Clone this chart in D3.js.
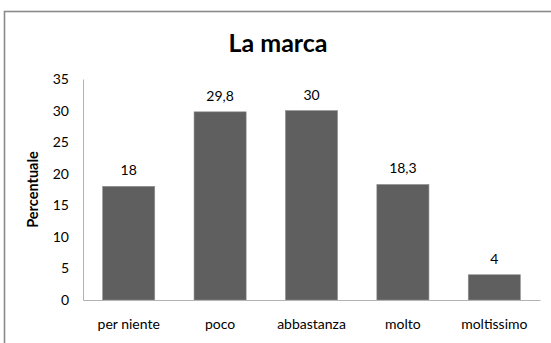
<!DOCTYPE html>
<html>
<head>
<meta charset="utf-8">
<script src="https://cdn.jsdelivr.net/npm/d3@7"></script>
<style>
  html, body { margin: 0; padding: 0; background: #fff; }
  svg { display: block; }
</style>
</head>
<body>
<svg id="chart" width="551" height="343"></svg>
<script>
// Survey answers and their percentages
const categories = ["per niente", "poco", "abbastanza", "molto", "moltissimo"];
const values = [18, 29.8, 30, 18.3, 4];
const yTicks = [0, 5, 10, 15, 20, 25, 30, 35];
const title = "La marca";
const yTitle = "Percentuale";

const W = 551, H = 343;
const fontFamily = "Lato, 'Open Sans', 'Liberation Sans', sans-serif";
const svg = d3.select("#chart");

// Outer chart frame
svg.append("rect")
  .attr("x", 4.5).attr("y", 11.5)
  .attr("width", W + 10).attr("height", H + 10)
  .attr("fill", "#fff")
  .attr("stroke", "#8a8a8a")
  .attr("stroke-width", 1.6);

const plot = { left: 83, right: 540, top: 79, bottom: 300 };

const x = d3.scaleBand()
  .domain(categories)
  .range([plot.left, plot.right])
  .paddingInner(0.43)
  .paddingOuter(0.215);

const y = d3.scaleLinear()
  .domain([0, 35])
  .range([plot.bottom, plot.top]);

// Title
svg.append("text")
  .attr("x", 278).attr("y", 52)
  .attr("text-anchor", "middle")
  .attr("font-family", fontFamily)
  .attr("font-weight", "bold")
  .attr("font-size", 25)
  .attr("fill", "#000")
  .text(title);

// Y axis
const yAxis = d3.axisLeft(y).tickValues(yTicks).tickSize(0).tickPadding(14);
const gy = svg.append("g")
  .attr("transform", `translate(${plot.left},0)`)
  .call(yAxis);
gy.select(".domain").attr("stroke", "#b3b3b3").attr("stroke-width", 1);
gy.selectAll("text")
  .attr("font-family", fontFamily)
  .attr("font-size", 14)
  .attr("fill", "#000");

// Y axis title
svg.append("text")
  .attr("transform", `translate(38,${(plot.top + plot.bottom) / 2}) rotate(-90)`)
  .attr("text-anchor", "middle")
  .attr("font-family", fontFamily)
  .attr("font-weight", "bold")
  .attr("font-size", 14.5)
  .attr("fill", "#000")
  .text(yTitle);

// Bars
svg.append("g").selectAll("rect")
  .data(values)
  .join("rect")
  .attr("x", (d, i) => x(categories[i]))
  .attr("y", d => y(d))
  .attr("width", x.bandwidth())
  .attr("height", d => y(0) - y(d))
  .attr("fill", "#5f5f5f")
  .attr("stroke", "#8f8f8f")
  .attr("stroke-width", 0.6);

// X axis
const xAxis = d3.axisBottom(x).tickSize(0).tickPadding(19);
const gx = svg.append("g")
  .attr("transform", `translate(0,${plot.bottom})`)
  .call(xAxis);
gx.select(".domain").attr("stroke", "#b3b3b3").attr("stroke-width", 1);
gx.selectAll("text")
  .attr("font-family", fontFamily)
  .attr("font-size", 14)
  .attr("fill", "#000");

// Value labels above bars
const fmt = v => String(v).replace(".", ",");
svg.append("g").selectAll("text")
  .data(values)
  .join("text")
  .attr("x", (d, i) => x(categories[i]) + x.bandwidth() / 2)
  .attr("y", d => y(d) - 11)
  .attr("text-anchor", "middle")
  .attr("font-family", fontFamily)
  .attr("font-size", 14)
  .attr("fill", "#000")
  .text(fmt);
</script>
</body>
</html>
